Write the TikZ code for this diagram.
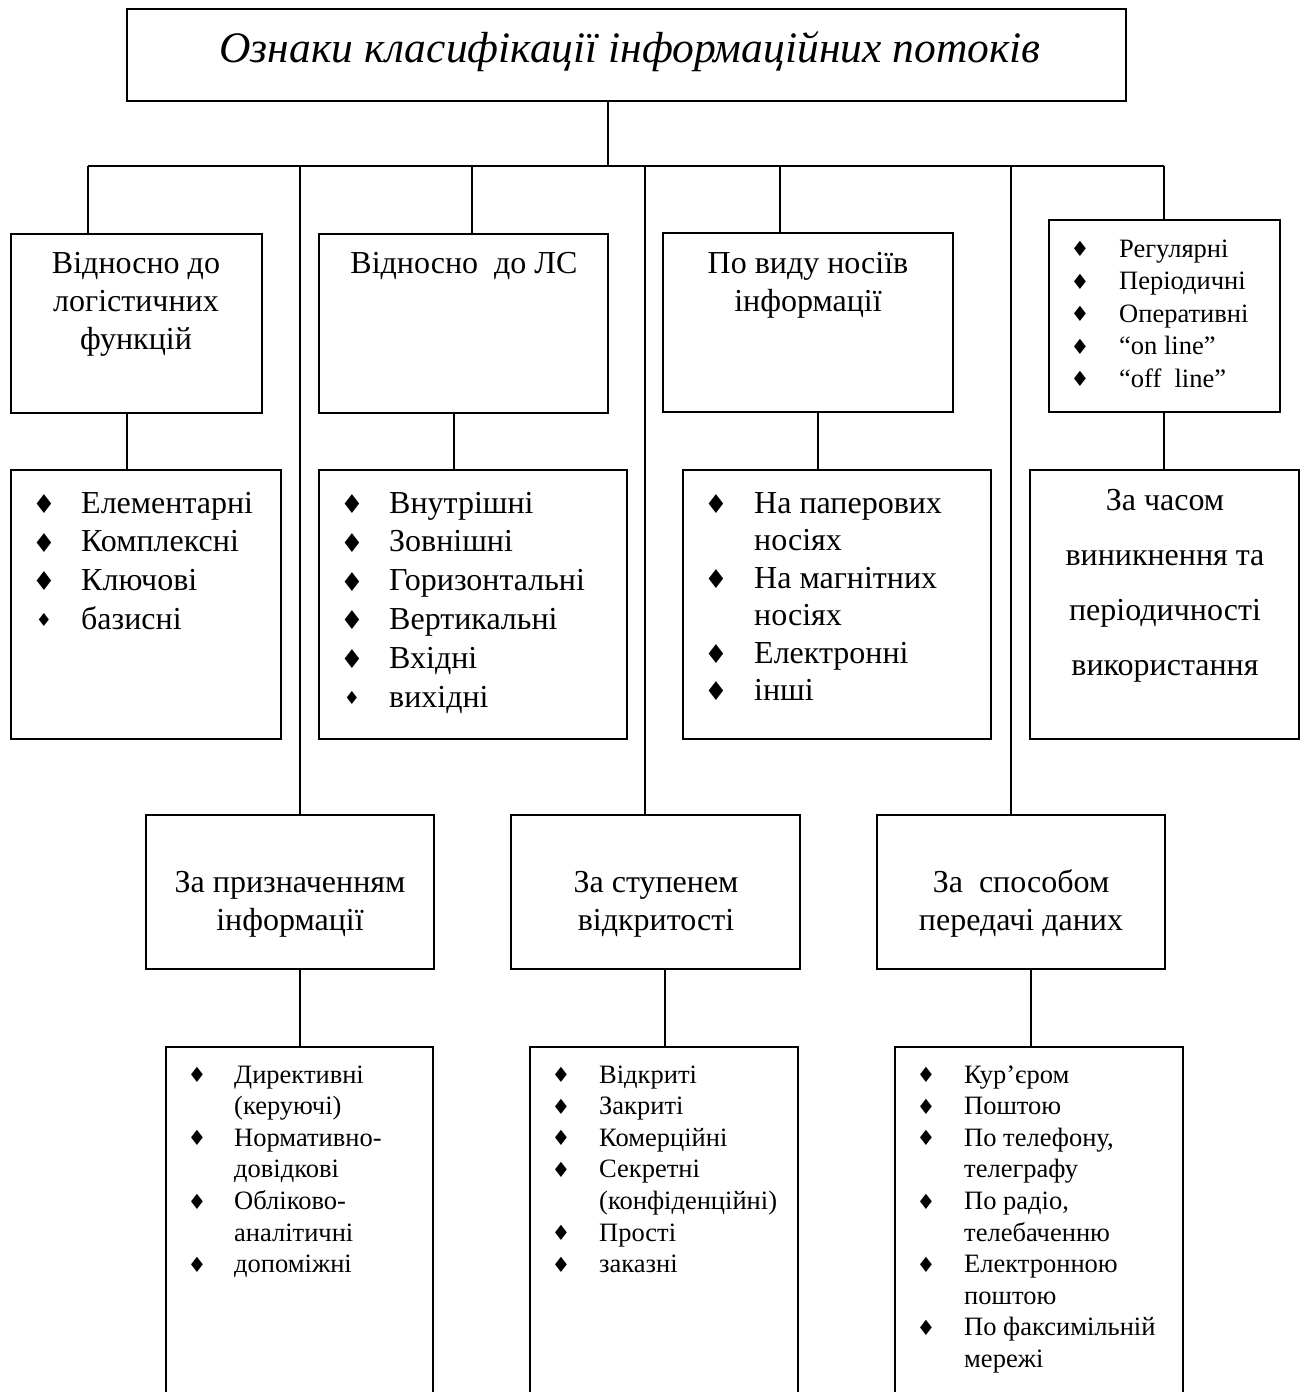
\documentclass[tikz,border=0pt]{standalone}
\usepackage{fontspec}
\setmainfont{Liberation Serif}
\newfontfamily\symfont{DejaVu Sans}
\usetikzlibrary{fit}
\newcommand\ftitle{\fontsize{43.5}{52}\selectfont\itshape}
\newcommand\fmid{\fontsize{32}{38}\selectfont}
\newcommand\fsmall{\fontsize{26.5}{32}\selectfont}
\newcommand\diabig{{\symfont\fontsize{26}{28}\selectfont ♦}}
\newcommand\diasmall{{\symfont\fontsize{21}{23}\selectfont ♦}}
\newcommand\diatiny{{\symfont\fontsize{18}{20}\selectfont ♦}}
\begin{document}
\begin{tikzpicture}[x=1pt,y=-1pt,
  box/.style={draw, line width=2pt, inner sep=0pt, outer sep=0pt},
  tbox/.style={draw, line width=2.6pt, inner sep=0pt, outer sep=0pt},
  conn/.style={line width=1.4pt},
  ctr/.style={anchor=base, inner sep=0pt},
  lft/.style={anchor=base west, inner sep=0pt},
  bul/.style={anchor=center, inner sep=0pt}]
\useasboundingbox (0,0) rectangle (1304,1392);
\fill[white] (0,0) rectangle (1304,1392);
% boxes
\node[tbox, fit={(127,9) (1126,101)}] (title) {};
\node[box, fit={(11,234) (262,413)}] (b1) {};
\node[box, fit={(319,234) (608,413)}] (b2) {};
\node[box, fit={(663,233) (953,412)}] (b3) {};
\node[box, fit={(1049,220) (1280,412)}] (b4) {};
\node[box, fit={(11,470) (281,739)}] (B1) {};
\node[box, fit={(319,470) (627,739)}] (B2) {};
\node[box, fit={(683,470) (991,739)}] (B3) {};
\node[box, fit={(1030,470) (1299,739)}] (B4) {};
\node[box, fit={(146,815) (434,969)}] (b5) {};
\node[box, fit={(511,815) (800,969)}] (b6) {};
\node[box, fit={(877,815) (1165,969)}] (b7) {};
\node[box, fit={(166,1047) (433,1410)}] (C5) {};
\node[box, fit={(530,1047) (798,1410)}] (C6) {};
\node[box, fit={(895,1047) (1183,1410)}] (C7) {};
% connector coordinates
\coordinate (j0) at (608,166);
\coordinate (busL) at (88,166);
\coordinate (busR) at (1164,166);
\coordinate (j1) at (88,166);
\coordinate (j5) at (300,166);
\coordinate (j2) at (472,166);
\coordinate (j6) at (645,166);
\coordinate (j3) at (780,166);
\coordinate (j7) at (1011,166);
\coordinate (j4) at (1164,166);
\coordinate (k1) at (127,0);
\coordinate (k2) at (454,0);
\coordinate (k3) at (818,0);
\coordinate (k4) at (1164,0);
\coordinate (k5) at (300,0);
\coordinate (k6) at (665,0);
\coordinate (k7) at (1031,0);
% connectors
\draw[conn] (title.south -| j0) -- (j0);
\draw[conn] (busL) -- (busR);
\draw[conn] (j1) -- (j1 |- b1.north);
\draw[conn] (j2) -- (j2 |- b2.north);
\draw[conn] (j3) -- (j3 |- b3.north);
\draw[conn] (j4) -- (j4 |- b4.north);
\draw[conn] (j5) -- (j5 |- b5.north);
\draw[conn] (j6) -- (j6 |- b6.north);
\draw[conn] (j7) -- (j7 |- b7.north);
\draw[conn] (b1.south -| k1) -- (B1.north -| k1);
\draw[conn] (b2.south -| k2) -- (B2.north -| k2);
\draw[conn] (b3.south -| k3) -- (B3.north -| k3);
\draw[conn] (b4.south -| k4) -- (B4.north -| k4);
\draw[conn] (b5.south -| k5) -- (C5.north -| k5);
\draw[conn] (b6.south -| k6) -- (C6.north -| k6);
\draw[conn] (b7.south -| k7) -- (C7.north -| k7);
% title
\node[ctr, font=\ftitle] (ttl) at (630,62) {Ознаки класифікації інформаційних потоків};
% upper boxes
\foreach \t [count=\i] in {Відносно до, логістичних, функцій}
  \node[ctr, font=\fmid] (t1-\i) at (136,{273+38*(\i-1)}) {\t};
\node[ctr, font=\fmid] (t2-1) at (464,273) {Відносно\ \ до ЛС};
\foreach \t [count=\i] in {По виду носіїв, інформації}
  \node[ctr, font=\fmid] (t3-\i) at (808,{273+38*(\i-1)}) {\t};
\foreach \t [count=\i] in {Регулярні, Періодичні, Оперативні, “on line”, “off\ \ line”}{
  \node[lft, font=\fsmall] (t4-\i) at (1119,{257+32.5*(\i-1)}) {\t};
  \node[bul] (d4-\i) at (1080,{257+32.5*(\i-1)-8}) {\diasmall};
}
% second tier
\foreach \t [count=\i] in {Елементарні, Комплексні, Ключові}{
  \node[lft, font=\fmid] (s1-\i) at (81,{513+38.7*(\i-1)}) {\t};
  \node[bul] (e1-\i) at (44,{513+38.7*(\i-1)-9}) {\diabig};
}
\node[lft, font=\fmid] (s1-4) at (81,629) {базисні};
\node[bul] (e1-4) at (44,620) {\diatiny};
\foreach \t [count=\i] in {Внутрішні, Зовнішні, Горизонтальні, Вертикальні, Вхідні}{
  \node[lft, font=\fmid] (s2-\i) at (389,{513+38.8*(\i-1)}) {\t};
  \node[bul] (e2-\i) at (352,{513+38.8*(\i-1)-9}) {\diabig};
}
\node[lft, font=\fmid] (s2-6) at (389,707) {вихідні};
\node[bul] (e2-6) at (352,698) {\diatiny};
\foreach \t [count=\i] in {На паперових, носіях, На магнітних, носіях, Електронні, інші}
  \node[lft, font=\fmid] (s3-\i) at (754,{513+37.5*(\i-1)}) {\t};
\foreach \i in {1,3,5,6}
  \node[bul] (e3-\i) at (716,{513+37.5*(\i-1)-9}) {\diabig};
\foreach \t [count=\i] in {За часом, виникнення та, періодичності, використання}
  \node[ctr, font=\fmid] (s4-\i) at (1165,{510+55*(\i-1)}) {\t};
% third tier
\foreach \t [count=\i] in {За призначенням, інформації}
  \node[ctr, font=\fmid] (t5-\i) at (290,{892+38*(\i-1)}) {\t};
\foreach \t [count=\i] in {За ступенем, відкритості}
  \node[ctr, font=\fmid] (t6-\i) at (656,{892+38*(\i-1)}) {\t};
\foreach \t [count=\i] in {За\ \ способом, передачі даних}
  \node[ctr, font=\fmid] (t7-\i) at (1021,{892+38*(\i-1)}) {\t};
% bottom lists
\foreach \t [count=\i] in {Директивні, (керуючі), Нормативно-, довідкові, Обліково-, аналітичні, допоміжні}
  \node[lft, font=\fsmall] (c5-\i) at (234,{1083+31.6*(\i-1)}) {\t};
\foreach \i in {1,3,5,7}
  \node[bul] (f5-\i) at (197,{1083+31.6*(\i-1)-8}) {\diasmall};
\foreach \t [count=\i] in {Відкриті, Закриті, Комерційні, Секретні, (конфіденційні), Прості, заказні}
  \node[lft, font=\fsmall] (c6-\i) at (599,{1083+31.6*(\i-1)}) {\t};
\foreach \i in {1,2,3,4,6,7}
  \node[bul] (f6-\i) at (561,{1083+31.6*(\i-1)-8}) {\diasmall};
\foreach \t [count=\i] in {Кур’єром, Поштою, {По телефону,}, телеграфу, {По радіо,}, телебаченню, Електронною, поштою, По факсимільній, мережі}
  \node[lft, font=\fsmall] (c7-\i) at (964,{1083+31.6*(\i-1)}) {\t};
\foreach \i in {1,2,3,5,7,9}
  \node[bul] (f7-\i) at (926,{1083+31.6*(\i-1)-8}) {\diasmall};
\end{tikzpicture}
\end{document}
